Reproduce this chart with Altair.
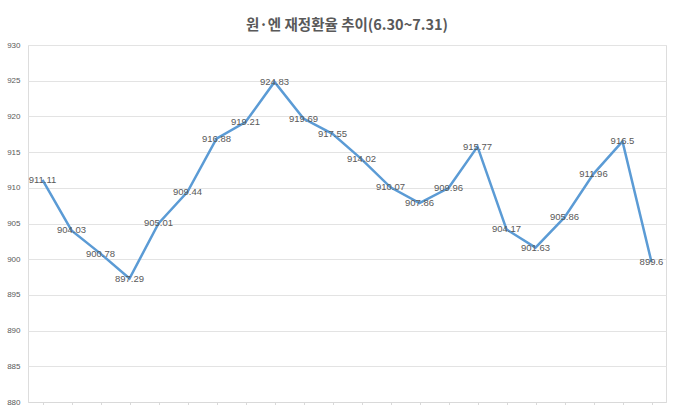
import altair as alt
import pandas as pd

days = [f"d{i:02d}" for i in range(22)]
rates = [911.11, 904.03, 900.78, 897.29, 905.01, 909.44, 916.88, 919.21, 924.83,
         919.69, 917.55, 914.02, 910.07, 907.86, 909.96, 915.77, 904.17, 901.63,
         905.86, 911.96, 916.5, 899.6]
labels = ["911.11", "904.03", "900.78", "897.29", "905.01", "909.44", "916.88", "919.21",
          "924.83", "919.69", "917.55", "914.02", "910.07", "907.86", "909.96", "915.77",
          "904.17", "901.63", "905.86", "911.96", "916.5", "899.6"]
y_ticks = [880, 885, 890, 895, 900, 905, 910, 915, 920, 925, 930]

df = pd.DataFrame({"day": days, "rate": rates, "label": labels})

x = alt.X("day:N", sort=days, title=None,
          scale=alt.Scale(paddingInner=0, paddingOuter=0),
          axis=alt.Axis(labels=False, ticks=True, bandPosition=0, tickSize=6,
                        tickColor="#d9d9d9", domainColor="#d9d9d9", grid=False))
y = alt.Y("rate:Q", title=None,
          scale=alt.Scale(domain=[880, 930], nice=False, zero=False),
          axis=alt.Axis(values=y_ticks, format="d", ticks=False, domain=False,
                        labelOverlap=False, tickCount=11,
                        labelFontSize=8, labelColor="#595959", labelPadding=8,
                        labelFont="Liberation Sans",
                        gridColor="#e3e3e3", gridWidth=1))

base = alt.Chart(df)
line = base.mark_line(color="#5b9bd5", strokeWidth=2.5).encode(x=x, y=y)
text = base.mark_text(fontSize=9.5, color="#595959", font="Liberation Sans",
                      baseline="middle", align="center").encode(
    x=alt.X("day:N", sort=days), y="rate:Q", text="label:N")

chart = (line + text).properties(
    width=638, height=357,
    title=alt.TitleParams("원·엔 재정환율 추이(6.30~7.31)", fontSize=14.5,
                          font="Noto Sans CJK KR", fontWeight="bold",
                          color="#595959", anchor="middle", offset=8),
    autosize=alt.AutoSizeParams(type="none"),
    padding={"left": 28, "top": 45, "right": 13, "bottom": 3},
).configure_view(stroke=None).configure(background="white")

chart.save("out.html", embed_options={"renderer": "svg", "actions": False})
